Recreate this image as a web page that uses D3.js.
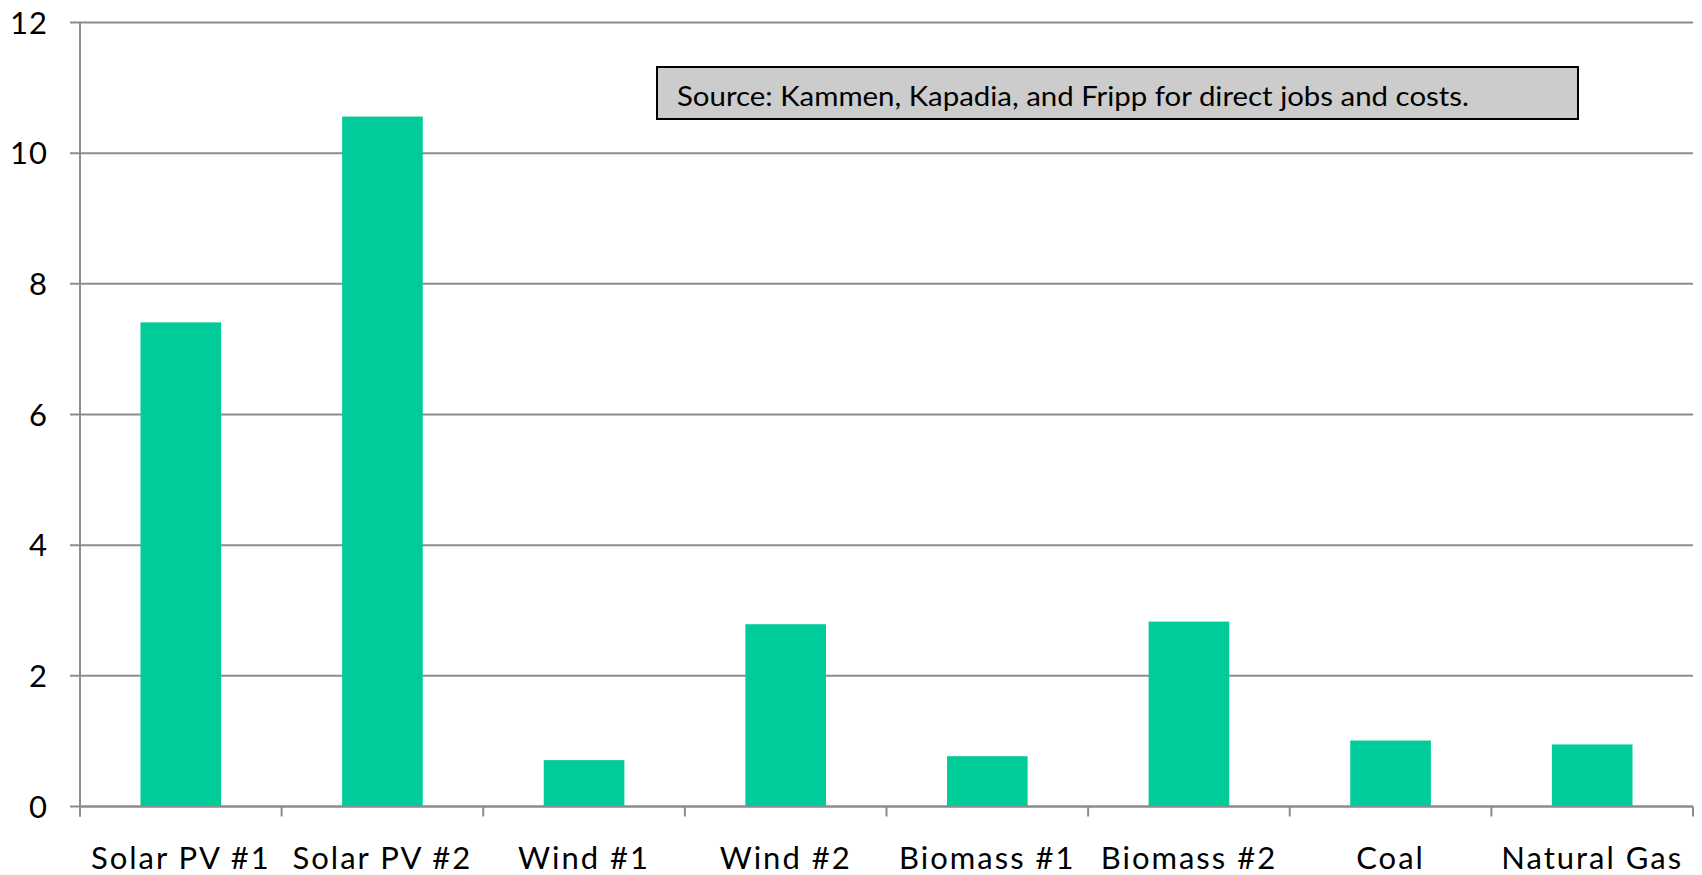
<!DOCTYPE html>
<html>
<head>
<meta charset="utf-8">
<script src="https://cdn.jsdelivr.net/npm/d3@7"></script>
<style>
  html, body { margin: 0; padding: 0; background: #fff; }
  svg { display: block; }
</style>
</head>
<body>
<div id="chart"></div>
<script>
const categories = ["Solar PV #1", "Solar PV #2", "Wind #1", "Wind #2", "Biomass #1", "Biomass #2", "Coal", "Natural Gas"];
const values = [7.41, 10.56, 0.71, 2.79, 0.77, 2.83, 1.01, 0.95];
const yTicks = [0, 2, 4, 6, 8, 10, 12];
const sourceNote = "Source: Kammen, Kapadia, and Fripp for direct jobs and costs.";

const W = 1702, H = 875;
const margin = { left: 80, right: 9, top: 22.5, bottom: 68.5 };
const innerW = W - margin.left - margin.right;
const innerH = H - margin.top - margin.bottom;
const font = "Lato, 'DejaVu Sans', sans-serif";

const svg = d3.select("#chart").append("svg").attr("width", W).attr("height", H);
const g = svg.append("g").attr("transform", `translate(${margin.left},${margin.top})`);

const x = d3.scaleBand().domain(categories).range([0, innerW]).padding(0);
const y = d3.scaleLinear().domain([0, 12]).range([innerH, 0]);

// gridlines
g.append("g").selectAll("line").data(yTicks).join("line")
  .attr("x1", -10).attr("x2", innerW)
  .attr("y1", d => y(d)).attr("y2", d => y(d))
  .attr("stroke", "#8c8c8c").attr("stroke-width", 2);

// y labels
g.append("g").selectAll("text").data(yTicks).join("text")
  .attr("x", -32).attr("y", d => y(d)).attr("dy", "0.36em")
  .attr("text-anchor", "end")
  .attr("font-family", font).attr("font-size", 31).attr("fill", "#000")
  .attr("letter-spacing", 1)
  .text(d => d);

// y axis line
g.append("line").attr("x1", 0).attr("x2", 0).attr("y1", 0).attr("y2", innerH + 10)
  .attr("stroke", "#8c8c8c").attr("stroke-width", 2);

// bars
const bw = x.bandwidth() * 0.4;
g.append("g").selectAll("rect").data(categories).join("rect")
  .attr("x", d => x(d) + (x.bandwidth() - bw) / 2)
  .attr("width", bw)
  .attr("y", (d, i) => y(values[i]))
  .attr("height", (d, i) => y(0) - y(values[i]))
  .attr("fill", "#00cc99");

// x axis baseline and ticks
g.append("line").attr("x1", 0).attr("x2", innerW).attr("y1", innerH).attr("y2", innerH)
  .attr("stroke", "#8c8c8c").attr("stroke-width", 2);
const tickPos = categories.map(c => x(c)).concat([innerW]);
g.append("g").selectAll("line").data(tickPos).join("line")
  .attr("x1", d => d).attr("x2", d => d)
  .attr("y1", innerH).attr("y2", innerH + 10)
  .attr("stroke", "#8c8c8c").attr("stroke-width", 2);

// x labels
g.append("g").selectAll("text").data(categories).join("text")
  .attr("x", d => x(d) + x.bandwidth() / 2)
  .attr("y", innerH + 62)
  .attr("text-anchor", "middle")
  .attr("font-family", font).attr("font-size", 31).attr("fill", "#000")
  .attr("letter-spacing", 2)
  .text(d => d);

// source note box
const box = svg.append("g");
box.append("rect").attr("x", 657).attr("y", 67).attr("width", 921).attr("height", 52)
  .attr("fill", "#cccccc").attr("stroke", "#000").attr("stroke-width", 2);
box.append("text").attr("x", 677).attr("y", 106)
  .attr("font-family", font).attr("font-size", 26).attr("fill", "#000")
  .attr("textLength", 792).attr("lengthAdjust", "spacingAndGlyphs")
  .text(sourceNote);
</script>
</body>
</html>
